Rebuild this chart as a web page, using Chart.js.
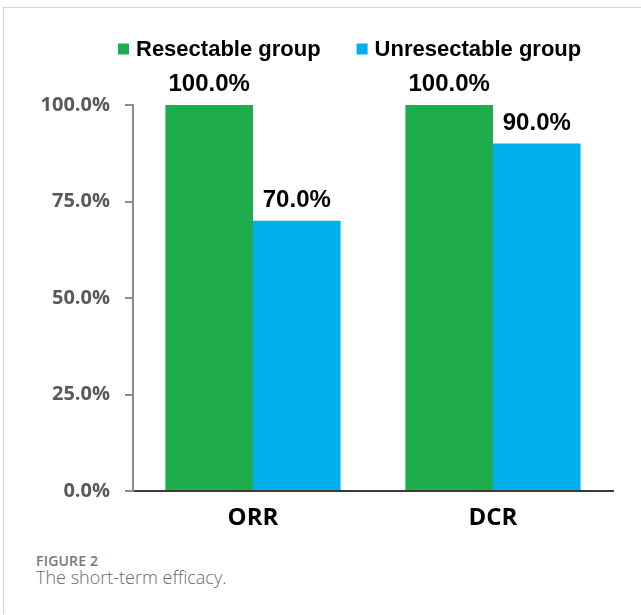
<!DOCTYPE html>
<html>
<head>
<meta charset="utf-8">
<script src="https://cdn.jsdelivr.net/npm/chart.js@4"></script>
<style>
  html, body { margin: 0; padding: 0; background: #fff; }
  body { width: 641px; height: 615px; position: relative; overflow: hidden; }
  .rahmen { position: absolute; left: 3px; top: 7px; right: -2px; height: 606px;
            border-top: 1px solid #d4d4d4; border-left: 1px solid #d4d4d4; }
  .grafik { position: absolute; left: 0; top: 0; width: 641px; height: 540px; }
  .fig-no { position: absolute; left: 36px; top: 551px; font: 600 14px "Open Sans", sans-serif; color: #777; letter-spacing: 0.2px; }
  .fig-text { position: absolute; left: 36px; top: 565px; font: 300 18px "Open Sans", sans-serif; color: #6a6a6a; }
</style>
</head>
<body>
<div class="rahmen"></div>
<div class="grafik"><canvas id="wirkung"></canvas></div>
<div class="fig-no">FIGURE 2</div>
<div class="fig-text">The short-term efficacy.</div>
<script>
// categories and values (percent)
const kategorien = ["ORR", "DCR"];
const resektabel = [100, 100];
const nichtResektabel = [70, 90];
const gruppen = ["Resectable group", "Unresectable group"];
const farben = ["#1fac4d", "#00b0ed"];
const yTicks = [0, 25, 50, 75, 100];

const LABEL_FONT = "bold 24px 'Liberation Sans', Arial, sans-serif";
const LEGEND_FONT = "bold 22px 'Liberation Sans', Arial, sans-serif";

// percentage labels above each bar
const wertLabels = {
  id: "wertLabels",
  afterDatasetsDraw(chart) {
    const ctx = chart.ctx;
    ctx.save();
    ctx.font = LABEL_FONT;
    ctx.fillStyle = "#000";
    ctx.textAlign = "center";
    ctx.textBaseline = "alphabetic";
    chart.data.datasets.forEach((ds, i) => {
      chart.getDatasetMeta(i).data.forEach((bar, j) => {
        ctx.fillText(ds.data[j].toFixed(1) + "%", bar.x, bar.y - 14);
      });
    });
    ctx.restore();
  }
};

// legend row above the plot: square + group name
const legendeOben = {
  id: "legendeOben",
  afterDraw(chart) {
    const ctx = chart.ctx;
    ctx.save();
    ctx.font = LEGEND_FONT;
    ctx.textBaseline = "middle";
    ctx.textAlign = "left";
    let x = 118;
    const yMitte = 49;
    chart.data.datasets.forEach(ds => {
      ctx.fillStyle = ds.backgroundColor;
      ctx.fillRect(x, yMitte - 5.5, 11, 11);
      ctx.fillStyle = "#000";
      ctx.fillText(ds.label, x + 18, yMitte + 1);
      x += 18 + ctx.measureText(ds.label).width + 36;
    });
    ctx.restore();
  }
};

new Chart(document.getElementById("wirkung"), {
  type: "bar",
  data: {
    labels: kategorien,
    datasets: [
      { label: gruppen[0], data: resektabel, backgroundColor: farben[0] },
      { label: gruppen[1], data: nichtResektabel, backgroundColor: farben[1] }
    ]
  },
  options: {
    responsive: true,
    maintainAspectRatio: false,
    animation: false,
    layout: { padding: { left: 0, right: 28, top: 105, bottom: 9 } },
    categoryPercentage: 0.73,
    barPercentage: 1,
    plugins: {
      tooltip: { enabled: false },
      legend: { display: false }
    },
    scales: {
      x: {
        grid: { display: false, drawTicks: false },
        border: { display: true, color: "#3c3c3c", width: 2 },
        ticks: {
          color: "#000",
          padding: 13,
          font: { family: "'Open Sans', sans-serif", size: 24, weight: "bold" }
        },
        afterFit(scale) { scale.height = 40; }
      },
      y: {
        min: 0,
        max: 100,
        afterBuildTicks(scale) { scale.ticks = yTicks.map(v => ({ value: v })); },
        grid: { drawOnChartArea: false, tickLength: 8, color: "#8c8c8c", lineWidth: 2 },
        border: { display: true, color: "#8c8c8c", width: 2 },
        ticks: {
          color: "#595959",
          padding: 15,
          font: { family: "'Open Sans', sans-serif", size: 20, weight: "bold" },
          callback: v => v.toFixed(1) + "%"
        },
        afterFit(scale) { scale.width = 133; }
      }
    }
  },
  plugins: [wertLabels, legendeOben]
});
</script>
</body>
</html>
